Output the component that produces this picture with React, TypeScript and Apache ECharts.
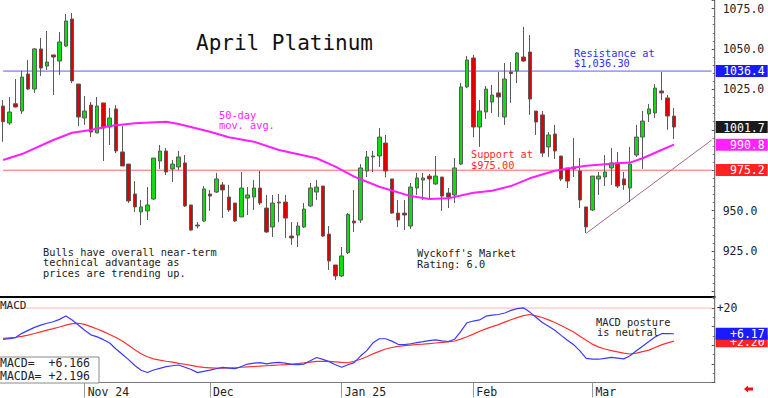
import React, { useEffect, useRef } from 'react';
import * as echarts from 'echarts';

const FONT = 'DejaVu Sans Mono';
const CATEGORY_COUNT = 114;

const monthLabels = [
  { index: 13, text: 'Nov 24' },
  { index: 33, text: 'Dec' },
  { index: 54, text: 'Jan 25' },
  { index: 75, text: 'Feb' },
  { index: 94, text: 'Mar' },
];

// daily candles, Oct 15 2024 .. Mar 19 2025
const opens = [
  1014.7, 1004.2, 1016.1, 1011.6, 1034.5, 1025.2, 1050.0, 1039.4, 1046.3, 1042.5,
  1051.8, 1068.5, 1028.3, 1007.3, 1015.3, 998.0, 1016.6, 1001.7, 1012.9, 986.3,
  978.8, 960.3, 949.2, 949.8, 957.2, 980.7, 986.9, 975.8, 977.0, 979.5,
  953.5, 941.1, 943.6, 960.3, 961.5, 965.9, 958.4, 954.7, 946.1, 957.8,
  958.4, 964.0, 951.6, 939.9, 954.7, 955.3, 934.3, 934.9, 939.9, 952.9,
  961.5, 965.2, 935.5, 916.4, 909.6, 924.0, 943.6, 944.2, 974.5, 983.2,
  983.8, 991.8, 969.6, 948.5, 948.5, 940.5, 964.0, 968.9, 971.4, 966.5,
  970.8, 960.9, 959.7, 978.8, 1026.5, 1044.4, 1001.7, 1011.0, 1017.2, 1022.8,
  1007.9, 1035.7, 1036.4, 1045.0, 1048.1, 1011.6, 1009.2, 989.4, 997.4, 983.8,
  976.4, 977.0, 974.5, 952.3, 950.4, 969.6, 970.8, 976.4, 979.5, 969.6,
  964.0, 984.4, 995.5, 1009.8, 1010.4, 1024.0, 1019.7, 1008.5,
];
const closes = [
  1005.0, 1011.0, 1014.1, 1032.6, 1025.2, 1050.0, 1038.2, 1041.9, 1045.0, 1054.3,
  1067.3, 1030.2, 1007.9, 1011.6, 998.6, 1014.7, 1001.1, 1007.3, 986.9, 977.6,
  956.0, 952.3, 952.3, 953.5, 982.5, 986.9, 973.9, 978.8, 983.2, 952.9,
  938.0, 940.5, 963.4, 959.0, 969.6, 962.8, 950.4, 943.6, 964.0, 959.7,
  964.0, 954.7, 936.8, 954.7, 955.3, 945.4, 933.1, 940.5, 951.0, 964.0,
  964.6, 934.3, 918.9, 909.6, 922.0, 947.7, 942.4, 976.4, 983.2, 983.8,
  995.5, 974.5, 948.5, 944.2, 947.3, 964.6, 970.2, 970.2, 969.6, 971.4,
  959.0, 958.4, 976.4, 1026.5, 1043.2, 1001.7, 1011.6, 1025.2, 1021.5, 1020.3,
  1031.4, 1034.8, 1047.5, 1042.5, 1019.0, 1004.8, 985.6, 996.8, 986.9, 969.6,
  968.3, 975.8, 956.6, 939.9, 971.4, 971.4, 973.9, 979.5, 965.2, 965.9,
  978.8, 995.5, 1005.4, 1012.9, 1025.8, 1022.8, 1008.5, 1001.7,
];
const highs = [
  1018.4, 1020.3, 1031.4, 1036.4, 1043.2, 1050.6, 1056.8, 1061.1, 1046.3, 1060.5,
  1071.6, 1072.2, 1028.3, 1020.9, 1017.2, 1020.3, 1016.6, 1013.5, 1015.3, 1002.3,
  978.8, 968.3, 956.6, 964.6, 982.5, 990.6, 988.7, 981.3, 986.9, 984.4,
  953.5, 943.0, 965.2, 962.8, 973.3, 967.7, 965.9, 954.7, 973.9, 964.6,
  968.9, 974.5, 959.7, 959.7, 960.3, 959.7, 943.0, 943.0, 954.7, 967.1,
  968.9, 965.2, 940.5, 916.4, 927.5, 948.5, 962.8, 978.8, 986.9, 986.9,
  1001.1, 996.8, 969.6, 956.6, 956.6, 967.1, 973.3, 973.3, 972.7, 983.8,
  970.8, 964.0, 982.5, 1029.0, 1045.6, 1046.3, 1018.4, 1027.1, 1027.7, 1035.7,
  1041.3, 1041.9, 1048.1, 1063.6, 1058.6, 1011.6, 1011.6, 998.6, 1003.0, 983.8,
  976.4, 994.9, 982.5, 952.3, 971.4, 973.9, 984.4, 988.7, 986.3, 973.9,
  989.4, 1003.0, 1011.6, 1016.0, 1028.3, 1035.7, 1021.5, 1013.5,
];
const lows = [
  992.6, 1003.0, 1013.8, 1009.8, 1024.6, 1022.8, 1033.3, 1037.0, 1021.5, 1033.9,
  1051.2, 1028.9, 1002.3, 1003.0, 995.5, 998.0, 980.7, 990.6, 985.6, 977.6,
  954.7, 949.2, 941.1, 944.2, 956.6, 975.8, 972.0, 967.7, 975.1, 952.3,
  937.5, 939.0, 943.0, 949.8, 960.9, 945.4, 949.2, 943.0, 946.1, 947.3,
  950.4, 953.5, 936.2, 933.7, 943.0, 933.1, 928.8, 927.5, 939.3, 952.3,
  956.6, 933.7, 913.3, 907.1, 909.0, 923.2, 936.8, 942.4, 970.8, 973.9,
  977.0, 970.5, 948.0, 939.9, 938.0, 938.7, 959.7, 956.6, 957.2, 965.9,
  949.8, 951.6, 954.7, 978.2, 1025.8, 995.5, 989.4, 1006.7, 1010.4, 1007.9,
  1003.0, 1016.6, 1028.9, 1041.9, 1009.2, 996.8, 983.2, 983.2, 982.0, 968.3,
  964.0, 970.8, 951.6, 936.2, 949.8, 959.7, 965.2, 965.9, 964.0, 962.8,
  955.3, 983.2, 975.8, 1004.8, 1007.3, 1018.4, 1000.0, 994.3,
];

// 50-day moving average, read at [candle index, value]
const movingAverage = [
  [0, 981.3], [3, 985.0], [8, 993.7], [11, 998.2], [14, 999.9], [17, 1002.3],
  [21, 1004.0], [26, 1005.0], [28, 1003.6], [33, 998.8], [36, 995.4], [40, 992.6],
  [44, 987.5], [50, 982.4], [53, 977.2], [56, 971.0], [60, 964.8], [65, 959.0],
  [68, 957.2], [71, 957.6], [75, 961.1], [78, 962.3], [81, 965.2], [84, 970.0],
  [88, 974.7], [93, 977.8], [98, 979.3], [100, 979.7], [102, 982.4], [105, 987.5],
  [107, 990.8],
];

const trendLine = [[93, 936.0], [113, 993.6]];

const macdLine = [
  3.2, 3.6, 4.1, 6.4, 8.0, 9.6, 10.8, 11.8, 12.6, 13.9,
  15.7, 13.6, 10.9, 8.1, 5.6, 4.5, 3.0, 1.2, -2.0, -4.8,
  -7.7, -10.9, -13.4, -14.6, -13.3, -12.4, -11.5, -11.0, -10.6, -11.8,
  -13.0, -14.7, -14.0, -13.4, -12.6, -11.9, -12.3, -12.6, -11.4, -10.1,
  -9.6, -9.3, -10.0, -9.5, -9.2, -9.6, -10.3, -10.4, -10.1, -8.3,
  -6.6, -7.6, -8.8, -10.5, -11.8, -10.5, -9.3, -5.8, -2.9, 1.3,
  3.5, 3.5, 2.2, 0.5, 0.3, 0.8, 1.4, 1.9, 2.5, 2.9,
  2.4, 2.0, 3.2, 7.5, 12.1, 13.0, 13.6, 15.6, 16.2, 16.5,
  17.3, 18.7, 19.7, 20.1, 17.8, 15.0, 12.2, 10.2, 8.1, 5.3,
  2.7, 0.3, -3.0, -7.0, -7.4, -7.5, -7.0, -6.5, -6.9, -7.3,
  -5.6, -3.0, -0.5, 2.0, 4.4, 6.2, 6.2, 6.166,
];
const signalLine = [
  3.7, 4.0, 4.3, 4.8, 5.4, 6.3, 7.2, 8.1, 8.9, 9.8,
  10.8, 11.6, 11.8, 11.2, 10.0, 8.7, 7.3, 5.8, 4.2, 2.3,
  0.0, -2.4, -4.6, -6.2, -7.3, -8.0, -8.6, -9.1, -9.7, -10.2,
  -10.8, -11.5, -11.9, -12.1, -12.3, -12.3, -12.2, -12.1, -11.8, -11.6,
  -11.4, -11.2, -11.0, -10.8, -10.6, -10.4, -10.1, -9.8, -9.5, -9.1,
  -8.7, -8.6, -8.7, -8.9, -9.2, -9.4, -8.6, -7.5, -6.2, -4.6,
  -3.3, -2.0, -1.2, -0.6, -0.2, 0.1, 0.4, 0.6, 0.9, 1.2,
  1.5, 1.8, 2.3, 3.3, 4.6, 6.0, 7.5, 8.8, 10.0, 11.1,
  12.4, 13.7, 14.8, 15.9, 16.5, 15.8, 14.9, 13.6, 12.2, 10.6,
  8.9, 7.1, 4.9, 2.7, 0.6, -1.0, -2.0, -2.9, -3.6, -4.2,
  -4.7, -4.2, -3.4, -2.6, -1.2, 0.2, 1.3, 2.196,
];

const resistanceLevel = 1036.3;
const supportLevel = 975.0;

const priceTicks = { min: 900, max: 1080.26, interval: 25 };
const macdTicks = { min: -20, max: 25.91, interval: 10 };

const tag = (value: number, text: string, bg: string) => ({
  yAxis: value,
  lineStyle: { color: 'rgba(255,255,255,0)', width: 0, type: 'solid' },
  label: {
    show: true,
    position: 'end',
    distance: 1,
    formatter: `{t|${text}}`,
    backgroundColor: bg,
    padding: [1, 3, 0, 3],
    rich: {
      t: { color: '#fff', fontSize: 11.5, fontFamily: FONT, width: 46, align: 'right', lineHeight: 11 },
    },
  },
});

const levelSeries = (value: number, color: string, xAxisIndex = 0, yAxisIndex = 0) => ({
  type: 'line',
  xAxisIndex,
  yAxisIndex,
  data: [[0, value], [CATEGORY_COUNT - 1, value]],
  symbol: 'none',
  silent: true,
  lineStyle: { color, width: 1, type: 'solid' },
  itemStyle: { color },
  z: 1,
});

const txt = (text: string, x: number, y: number, fill: string, size = 10.3) => ({
  type: 'text',
  x,
  y,
  z: 50,
  style: { text, fill, fontSize: size, fontFamily: FONT, verticalAlign: 'middle', textVerticalAlign: 'middle' },
});

export default function App() {
  const ref = useRef<HTMLDivElement>(null);
  useEffect(() => {
    if (!ref.current) return;
    const chart = echarts.init(ref.current, undefined, { renderer: 'svg' });
    const categories = Array.from({ length: CATEGORY_COUNT }, (_, i) => `d${i}`);
    const monthMap: Record<number, string> = {};
    monthLabels.forEach((m) => (monthMap[m.index] = m.text));
    const isMonth = (i: number) => monthMap[i] !== undefined;
    const candles = opens.map((o, i) => [o, closes[i], lows[i], highs[i]]);
    const gridLeft = -1.6;
    const gridRight = 53.3;

    chart.setOption({
      animation: false,
      backgroundColor: '#fff',
      grid: [
        { left: gridLeft, right: gridRight, top: 0, height: 291.5 },
        { left: gridLeft, right: gridRight, top: 297, height: 85.5 },
      ],
      xAxis: [
        { type: 'category', gridIndex: 0, data: categories, show: false },
        {
          type: 'category',
          gridIndex: 1,
          data: categories,
          position: 'bottom',
          axisLine: { onZero: false, lineStyle: { color: '#7a7a8a', width: 1 } },
          axisTick: { show: true, alignWithLabel: true, interval: (i: number) => isMonth(i), length: 15, lineStyle: { color: '#999' } },
          axisLabel: {
            interval: (i: number) => isMonth(i),
            formatter: (_v: string, i: number) => monthMap[i] || '',
            align: 'left',
            margin: 3,
            padding: [0, 0, 0, 3],
            fontSize: 11.5,
            fontFamily: FONT,
            color: '#222',
          },
          splitLine: { show: false },
        },
        {
          type: 'category',
          gridIndex: 1,
          data: categories,
          position: 'top',
          axisLine: { onZero: false, lineStyle: { color: '#000', width: 2 } },
          axisTick: { show: false },
          axisLabel: { show: false },
        },
      ],
      yAxis: [
        {
          type: 'value',
          gridIndex: 0,
          position: 'right',
          min: priceTicks.min,
          max: priceTicks.max,
          interval: priceTicks.interval,
          axisLine: { show: false },
          axisTick: { show: true, inside: true, length: 3, lineStyle: { color: '#555' } },
          minorTick: { show: true, splitNumber: 5, length: 2, lineStyle: { color: '#777' } },
          splitLine: { show: false },
          axisLabel: {
            margin: 8,
            fontSize: 11.5,
            fontFamily: FONT,
            color: '#222',
            formatter: (v: number) => (v === 900 || v === 975 || v === 1000 ? '' : v.toFixed(1)),
          },
        },
        {
          type: 'value',
          gridIndex: 1,
          position: 'right',
          min: macdTicks.min,
          max: macdTicks.max,
          interval: macdTicks.interval,
          axisLine: { show: false },
          axisTick: { show: true, inside: true, length: 3, lineStyle: { color: '#555' } },
          minorTick: { show: true, splitNumber: 2, length: 2, lineStyle: { color: '#777' } },
          splitLine: { show: false },
          axisLabel: {
            margin: 2,
            fontSize: 11.5,
            fontFamily: FONT,
            color: '#222',
            formatter: (v: number) => (v === 20 ? '+20' : ''),
          },
        },
      ],
      series: [
        levelSeries(resistanceLevel, '#5c5cff'),
        levelSeries(supportLevel, '#ff6464'),
        levelSeries(20, '#ffb4b4', 1, 1),
        {
          type: 'line',
          xAxisIndex: 0,
          yAxisIndex: 0,
          data: trendLine,
          symbol: 'none',
          lineStyle: { color: '#a8688a', width: 1 },
          itemStyle: { color: '#a8688a' },
          z: 1,
        },
        {
          type: 'candlestick',
          xAxisIndex: 0,
          yAxisIndex: 0,
          data: candles,
          barWidth: 4,
          itemStyle: {
            color: '#10dd10',
            color0: '#e00000',
            borderColor: '#5a5a5a',
            borderColor0: '#5a5a5a',
            borderWidth: 1,
          },
          z: 2,
        },
        {
          type: 'line',
          xAxisIndex: 0,
          yAxisIndex: 0,
          data: movingAverage,
          symbol: 'none',
          lineStyle: { color: '#ff1eff', width: 2 },
          markLine: {
            silent: true,
            symbol: ['none', 'none'],
            animation: false,
            data: [
              tag(1036.4, '1036.4', '#1a1aff'),
              tag(975.2, '975.2', '#ff2222'),
              tag(1001.7, '1001.7', '#1a1a1a'),
              tag(990.8, '990.8', '#ff22ff'),
            ],
          },
          z: 3,
        },
        {
          type: 'line',
          xAxisIndex: 1,
          yAxisIndex: 1,
          data: signalLine,
          symbol: 'none',
          lineStyle: { color: '#ff3030', width: 1.2 },
          markLine: {
            silent: true,
            symbol: ['none', 'none'],
            animation: false,
            data: [tag(2.196, '+2.20', '#ff2222')],
          },
        },
        {
          type: 'line',
          xAxisIndex: 1,
          yAxisIndex: 1,
          data: macdLine,
          symbol: 'none',
          lineStyle: { color: '#3a3aff', width: 1.2 },
          markLine: {
            silent: true,
            symbol: ['none', 'none'],
            animation: false,
            data: [tag(6.166, '+6.17', '#1a1aff')],
          },
        },
      ],
      graphic: [
        { type: 'line', z: 40, shape: { x1: 714.7, y1: 0, x2: 714.7, y2: 383 }, style: { stroke: '#555', lineWidth: 1 } },
        txt('April Platinum', 196, 43, '#111', 21),
        txt('Resistance at', 574, 52.5, '#2e2eff'),
        txt('$1,036.30', 574, 63, '#2e2eff'),
        txt('50-day', 219, 114.5, '#ff22ff'),
        txt('mov. avg.', 219, 125, '#ff22ff'),
        txt('Support at', 471, 154, '#ff2a2a'),
        txt('$975.00', 471, 164.5, '#ff2a2a'),
        txt('Bulls have overall near-term', 43, 251.5, '#222'),
        txt('technical advantage as', 43, 262.3, '#222'),
        txt('prices are trending up.', 43, 273.3, '#222'),
        txt("Wyckoff's Market", 417, 252.7, '#222'),
        txt('Rating: 6.0', 417, 264, '#222'),
        txt('MACD posture', 596, 321.5, '#222'),
        txt('is neutral', 597, 332.3, '#222'),
        txt('MACD', 0, 305, '#222', 11),
        { type: 'rect', z: 45, shape: { x: -1, y: 357, width: 100, height: 26 }, style: { fill: '#fff', stroke: '#888', lineWidth: 1 } },
        txt('MACD=  +6.166', 0, 363, '#222', 11.5),
        txt('MACDA= +2.196', 0, 376, '#222', 11.5),
        {
          type: 'polygon',
          z: 50,
          shape: { points: [[744, 389], [748, 385.5], [748, 387.5], [753, 387.5], [753, 390.5], [748, 390.5], [748, 392.5]] },
          style: { fill: '#ee1111' },
        },
      ],
    });
    return () => chart.dispose();
  }, []);
  return <div ref={ref} style={{ position: 'fixed', left: 0, top: 0, width: 768, height: 398, background: '#fff' }} />;
}
